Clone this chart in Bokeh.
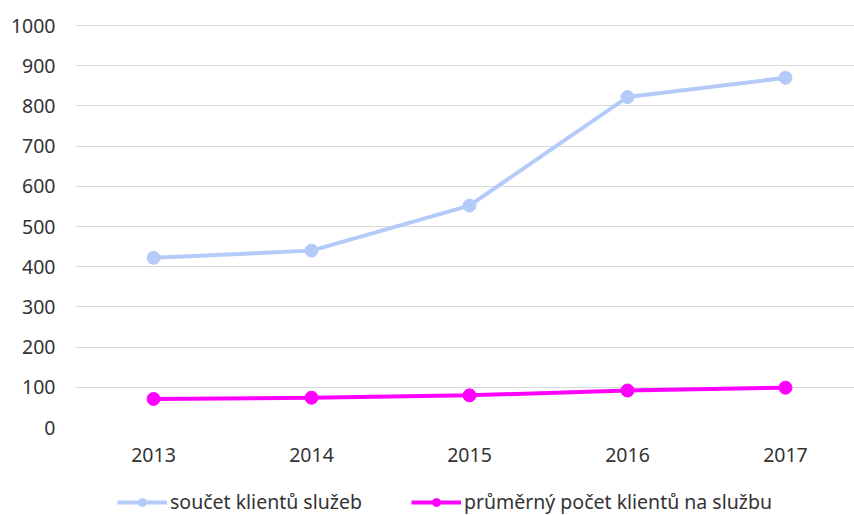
from bokeh.plotting import figure
from bokeh.models import Range1d, FixedTicker, Legend, LegendItem
from bokeh.layouts import column
from bokeh.embed import file_html
from bokeh.resources import INLINE

years = ["2013", "2014", "2015", "2016", "2017"]
soucet = [422, 440, 552, 822, 870]
prumer = [71, 74, 80, 92, 99]
y_ticks = [0, 100, 200, 300, 400, 500, 600, 700, 800, 900, 1000]
series_names = ["součet klientů služeb", "průměrný počet klientů na službu"]

xs = list(range(len(years)))
FONT = "Noto Sans"
FS = "19.5px"
TXT = "#333333"
c1 = "#b4cbfa"
c2 = "#ff00ff"

p = figure(frame_width=779, frame_height=404, output_backend="svg", toolbar_location=None,
           x_range=Range1d(-0.494, 4.437), y_range=Range1d(0, 1005),
           min_border_left=75, min_border_right=0, min_border_top=23, min_border_bottom=46)
p.outline_line_color = None
p.xgrid.grid_line_color = None
p.ygrid.grid_line_color = "#d9d9d9"

p.xaxis.ticker = FixedTicker(ticks=xs)
p.xaxis.major_label_overrides = {i: y for i, y in enumerate(years)}
p.yaxis.ticker = FixedTicker(ticks=y_ticks)
for ax in (p.xaxis, p.yaxis):
    ax.axis_line_color = None
    ax.major_tick_line_color = None
    ax.minor_tick_line_color = None
    ax.major_tick_out = 0
    ax.major_tick_in = 0
    ax.major_label_text_font = FONT
    ax.major_label_text_font_size = FS
    ax.major_label_text_color = TXT
p.xaxis.major_label_standoff = 20
p.yaxis.major_label_standoff = 20

p.line(xs, soucet, line_color=c1, line_width=4)
p.scatter(xs, soucet, size=13, fill_color=c1, line_color=c1)
p.line(xs, prumer, line_color=c2, line_width=4)
p.scatter(xs, prumer, size=13, fill_color=c2, line_color=c2)

# legend strip below the chart (its renderers hold a point outside the visible range,
# so only the legend swatches show)
q = figure(frame_width=854, frame_height=42, output_backend="svg", toolbar_location=None,
           x_range=Range1d(0, 1), y_range=Range1d(0, 1),
           x_axis_location=None, y_axis_location=None,
           min_border_left=0, min_border_right=0, min_border_top=0, min_border_bottom=0)
q.outline_line_color = None
q.xgrid.grid_line_color = None
q.ygrid.grid_line_color = None
off_x = [-5, -4]
off_y = [-5, -5]
ql1 = q.line(off_x, off_y, line_color=c1, line_width=4)
qm1 = q.scatter(off_x, off_y, size=13, fill_color=c1, line_color=c1)
ql2 = q.line(off_x, off_y, line_color=c2, line_width=4)
qm2 = q.scatter(off_x, off_y, size=13, fill_color=c2, line_color=c2)
legend = Legend(items=[LegendItem(label=series_names[0], renderers=[ql1, qm1]),
                       LegendItem(label=series_names[1], renderers=[ql2, qm2])],
                orientation="horizontal", location=(117, 0),
                label_text_font=FONT, label_text_font_size=FS, label_text_color=TXT,
                glyph_width=50, glyph_height=20, label_standoff=3, spacing=49,
                border_line_color=None, background_fill_alpha=0, padding=0, margin=0)
q.add_layout(legend, "center")

layout = column(p, q, spacing=0)
open("out.html", "w").write(file_html(layout, INLINE))
